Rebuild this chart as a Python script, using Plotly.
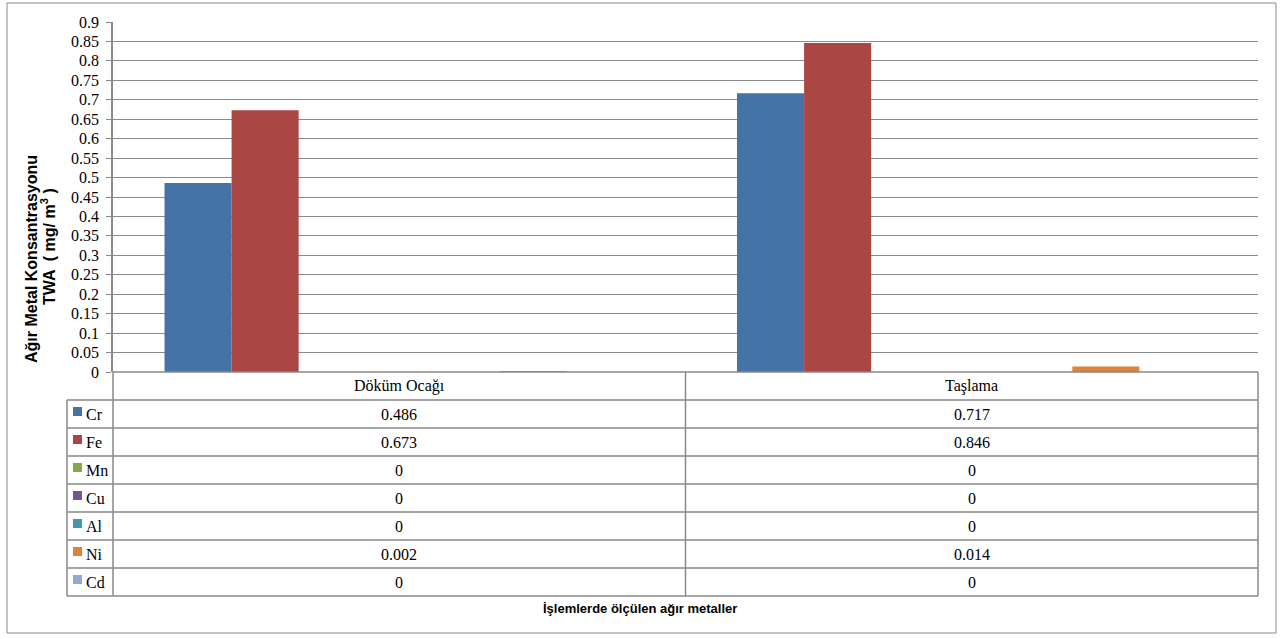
import plotly.graph_objects as go

# ---- data ----
categories = ["Döküm Ocağı", "Taşlama"]
metals = ["Cr", "Fe", "Mn", "Cu", "Al", "Ni", "Cd"]
cr = [0.486, 0.717]
fe = [0.673, 0.846]
mn = [0, 0]
cu = [0, 0]
al = [0, 0]
ni = [0.002, 0.014]
cd = [0, 0]
series_values = [cr, fe, mn, cu, al, ni, cd]
colors = ["#4572A7", "#AA4643", "#89A54E", "#71588F", "#4198AF", "#DB843D", "#93A9CF"]

y_tick_values = [0, 0.05, 0.1, 0.15, 0.2, 0.25, 0.3, 0.35, 0.4, 0.45,
                 0.5, 0.55, 0.6, 0.65, 0.7, 0.75, 0.8, 0.85, 0.9]
y_tick_labels = ["0", "0.05", "0.1", "0.15", "0.2", "0.25", "0.3", "0.35", "0.4", "0.45",
                 "0.5", "0.55", "0.6", "0.65", "0.7", "0.75", "0.8", "0.85", "0.9"]

y_title_lines = ["Ağır Metal Konsantrasyonu", "TWA  ( mg/ m<sup>3</sup> )"]
x_title = "İşlemlerde ölçülen ağır metaller"

# ---- geometry (pixels) ----
W, H = 1283, 639
PLOT_L, PLOT_R = 113, 1258
PLOT_T, PLOT_B = 22, 372
ROW_H = 28
TABLE_L = 67
GRID = "#898989"
SERIF = "Liberation Serif"
SANS = "Liberation Sans"


def px(x):
    return x / W


def py(y):
    return 1 - y / H


fig = go.Figure()
for name, vals, col in zip(metals, series_values, colors):
    fig.add_trace(go.Bar(
        x=categories, y=vals, name=name,
        marker=dict(color=col, line=dict(width=0)),
        showlegend=False,
    ))

shapes = []
annotations = []

# outer chart border
shapes.append(dict(type="rect", xref="paper", yref="paper",
                   x0=px(7), x1=px(1276), y0=py(633), y1=py(3),
                   line=dict(color="#8a8a8a", width=1)))

# data table: horizontal rules
n_rows = len(metals)
table_bottom = PLOT_B + ROW_H * (n_rows + 1)
shapes.append(dict(type="line", xref="paper", yref="paper",
                   x0=px(PLOT_L), x1=px(PLOT_R), y0=py(PLOT_B), y1=py(PLOT_B),
                   line=dict(color=GRID, width=1.5)))
for i in range(1, n_rows + 2):
    yy = PLOT_B + ROW_H * i
    shapes.append(dict(type="line", xref="paper", yref="paper",
                       x0=px(TABLE_L), x1=px(PLOT_R), y0=py(yy), y1=py(yy),
                       line=dict(color=GRID, width=1.5)))
# vertical rules
shapes.append(dict(type="line", xref="paper", yref="paper",
                   x0=px(TABLE_L), x1=px(TABLE_L),
                   y0=py(PLOT_B + ROW_H), y1=py(table_bottom),
                   line=dict(color=GRID, width=1.5)))
shapes.append(dict(type="line", xref="paper", yref="paper",
                   x0=px(PLOT_L), x1=px(PLOT_L), y0=py(PLOT_B), y1=py(table_bottom),
                   line=dict(color=GRID, width=1.5)))
shapes.append(dict(type="line", xref="paper", yref="paper",
                   x0=px(PLOT_R), x1=px(PLOT_R), y0=py(PLOT_B), y1=py(table_bottom),
                   line=dict(color=GRID, width=1.5)))
for k in range(len(categories) - 1):
    shapes.append(dict(type="line", xref="x", yref="paper",
                       x0=k + 0.5, x1=k + 0.5, y0=py(PLOT_B), y1=py(table_bottom),
                       line=dict(color=GRID, width=1.5)))

cell_font = dict(family=SERIF, size=16, color="#000")

# header row: category names
for k, cat in enumerate(categories):
    annotations.append(dict(x=k, y=py(PLOT_B + ROW_H / 2), xref="x", yref="paper",
                            text=cat, showarrow=False,
                            xanchor="center", yanchor="middle", font=cell_font))

# table body: legend keys, names and values
for i, (name, vals, col) in enumerate(zip(metals, series_values, colors)):
    cy = PLOT_B + ROW_H * (i + 1) + ROW_H / 2
    shapes.append(dict(type="rect", xref="paper", yref="paper",
                       x0=px(73), x1=px(82), y0=py(cy + 2), y1=py(cy - 7),
                       fillcolor=col, line=dict(width=0)))
    annotations.append(dict(x=px(84), y=py(cy), xref="paper", yref="paper",
                            text=name, showarrow=False,
                            xanchor="left", yanchor="middle", font=cell_font))
    for k, v in enumerate(vals):
        annotations.append(dict(x=k, y=py(cy), xref="x", yref="paper",
                                text=f"{v:g}", showarrow=False,
                                xanchor="center", yanchor="middle", font=cell_font))

# axis titles (the two y-title lines are placed separately for tight spacing)
title_font = dict(family=SANS, size=16, color="#000")
for text, xpos, ypos in zip(y_title_lines, [31, 48], [259, 247]):
    annotations.append(dict(x=px(xpos), y=py(ypos), xref="paper", yref="paper",
                            text="<b>" + text + "</b>", textangle=-90, showarrow=False,
                            xanchor="center", yanchor="middle", font=title_font))
annotations.append(dict(x=px(640), y=py(608), xref="paper", yref="paper",
                        text="<b>" + x_title + "</b>", showarrow=False,
                        xanchor="center", yanchor="middle",
                        font=dict(family=SANS, size=13, color="#000")))

fig.update_layout(
    template="none",
    width=W, height=H,
    margin=dict(l=0, r=0, t=0, b=0, pad=0, autoexpand=False),
    paper_bgcolor="white", plot_bgcolor="white",
    barmode="group", bargap=0.18, bargroupgap=0,
    xaxis=dict(domain=[px(PLOT_L), px(PLOT_R)], range=[-0.5, len(categories) - 0.5],
               showticklabels=False, showgrid=False, zeroline=False,
               showline=False, ticks="", automargin=False),
    yaxis=dict(domain=[py(PLOT_B), py(PLOT_T)], range=[0, 0.9],
               tickvals=y_tick_values, ticktext=y_tick_labels,
               showgrid=True, gridcolor=GRID, gridwidth=1,
               zeroline=False, showline=True, linecolor=GRID, linewidth=1.5,
               ticks="outside", ticklen=5, tickcolor=GRID, automargin=False,
               ticklabelstandoff=4,
               tickfont=dict(family=SERIF, size=16, color="#000")),
    shapes=shapes,
    annotations=annotations,
)

fig.write_html("out.html")
